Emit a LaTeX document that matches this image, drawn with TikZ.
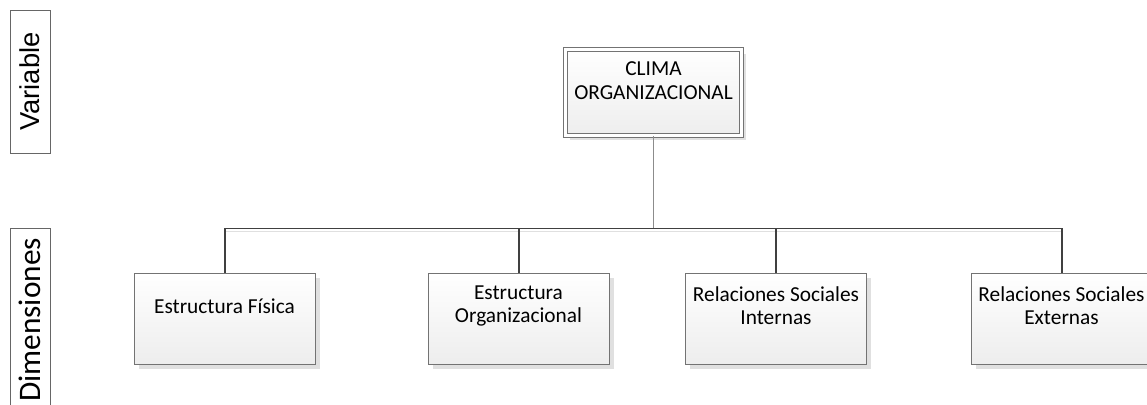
\documentclass[tikz,border=0pt]{standalone}
\usepackage{fontspec}
\setmainfont{Carlito}
\newfontfamily\labelfont{Liberation Sans}
\usetikzlibrary{shadows}

\begin{document}
\begin{tikzpicture}
  [x=0.75pt,y=-0.75pt,
   box/.style={rectangle,draw=black!55,line width=0.75pt,top color=white,bottom color=black!7,
     minimum width=135.75pt,minimum height=68.25pt,inner sep=0pt,
     drop shadow={shadow xshift=3.5pt,shadow yshift=-3.5pt,fill=black!12,opacity=1}},
   txt/.style={align=center,font=\fontsize{16}{17.5}\selectfont,inner sep=0pt},
   side/.style={rectangle,draw=black!60,line width=0.75pt,rotate=90,minimum height=30pt,inner sep=0pt},
   drop/.style={draw=black!75,line width=1.5pt}]
  \useasboundingbox (0,0) rectangle (1147,404);

  \node[side,minimum width=107.25pt,font=\labelfont\fontsize{20.5}{22}\selectfont] (var) at (30,81.5) {Variable};
  \node[side,minimum width=138pt,font=\fontsize{23.5}{25}\selectfont] (dim) at (30,320) {Dimensiones};

  \node[box,line width=0.6pt,double,double distance=2.2pt,minimum width=132.35pt,minimum height=64.85pt] (clima) at (653.5,92.5) {};
  \node[txt] (tclima) at ([yshift=9pt]clima.center) {CLIMA\\ORGANIZACIONAL};

  \foreach \name/\x/\lbl in {e1/224.5/{Estructura Física},e2/518.5/{Estructura\\Organizacional},
      e3/776/{Relaciones Sociales\\Internas},e4/1061.5/{Relaciones Sociales\\Externas}}
  {
    \node[box] (\name) at (\x,318.5) {};
    \node[txt] (t\name) at ([yshift=9.5pt]\name.center) {\lbl};
  }

  \coordinate (bus) at (653.5,228);
  \draw[black!45,line width=0.75pt] (clima.south) -- (bus);
  \draw[black!12,line width=0.75pt] ([yshift=-2.5pt]e1.north |- bus) -- ([yshift=-2.5pt]e4.north |- bus);
  \draw[black!75,line width=0.75pt] (e1.north |- bus) -- (e4.north |- bus);
  \foreach \n in {e1,e2,e3,e4}
    \draw[drop] (\n.north |- bus) -- (\n.north);

\end{tikzpicture}
\end{document}
